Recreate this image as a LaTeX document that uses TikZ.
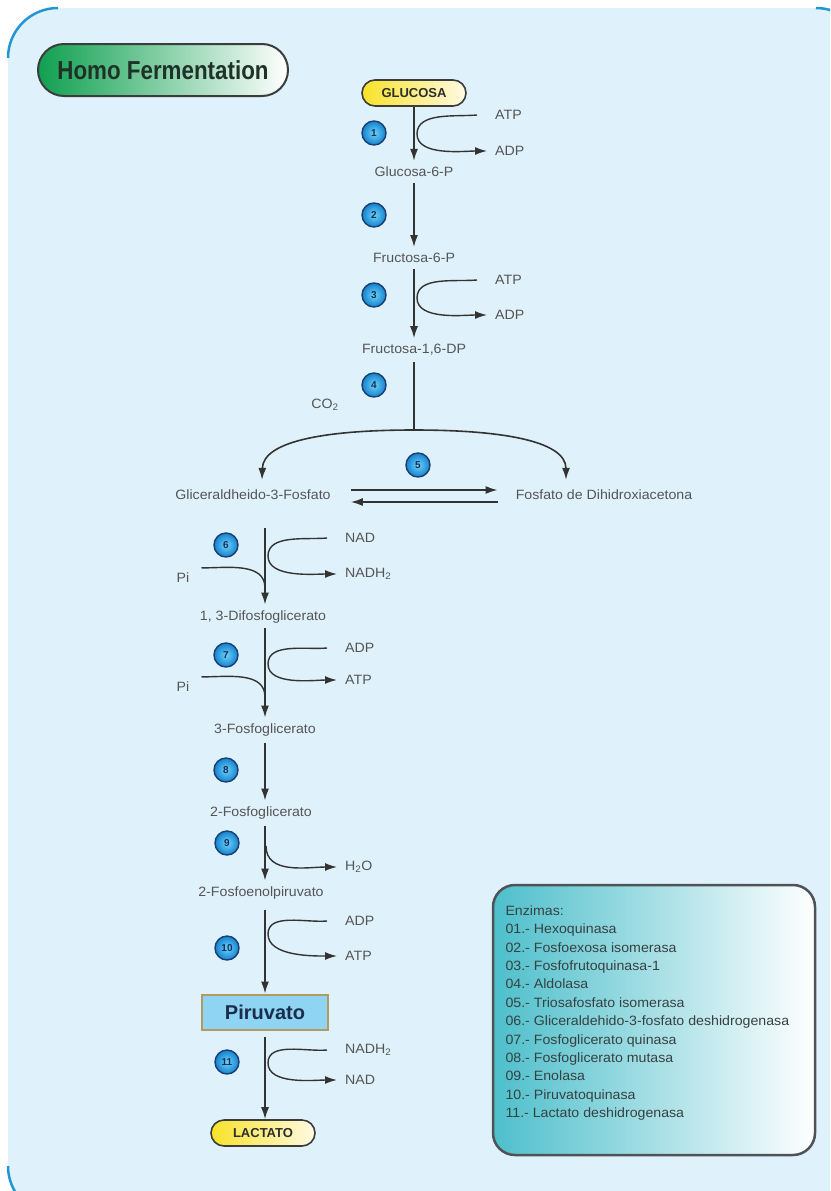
\documentclass[tikz,border=0pt]{standalone}
\usepackage{fontspec}
\setmainfont{Liberation Sans}
\newfontfamily\labelfont[FakeStretch=1.05]{Liberation Sans}
\newfontfamily\narrowfont[FakeStretch=0.86]{Liberation Sans}
\usetikzlibrary{arrows.meta, positioning, calc}
\definecolor{bgblue}{RGB}{223, 241, 250}
\definecolor{edgeblue}{RGB}{33, 150, 214}
\definecolor{titlegreen}{RGB}{15, 160, 80}
\definecolor{titletxt}{RGB}{30, 50, 40}
\definecolor{pillyellow}{RGB}{247, 226, 40}
\definecolor{pillcream}{RGB}{255, 250, 228}
\definecolor{pillborder}{RGB}{60, 60, 60}
\definecolor{darktxt}{RGB}{45, 45, 45}
\definecolor{txtgray}{RGB}{85, 85, 85}
\definecolor{linegray}{RGB}{51, 51, 51}
\definecolor{numblue}{RGB}{20, 130, 205}
\definecolor{numlight}{RGB}{110, 210, 250}
\definecolor{numborder}{RGB}{26, 63, 115}
\definecolor{numtxt}{RGB}{16, 48, 90}
\definecolor{pirfill}{RGB}{143, 212, 242}
\definecolor{pirborder}{RGB}{179, 154, 96}
\definecolor{pirtxt}{RGB}{27, 45, 77}
\definecolor{enzteal}{RGB}{77, 191, 203}
\definecolor{enzborder}{RGB}{79, 83, 88}
\definecolor{enztxt}{RGB}{55, 65, 65}

\begin{document}
\begin{tikzpicture}[x=1pt, y=1pt, >={Latex[length=12pt,width=8pt]},
    lbl/.style={font=\labelfont\fontsize{13.5}{16}\selectfont, text=txtgray, inner xsep=2pt, inner ysep=6pt},
    sidelbl/.style={font=\labelfont\fontsize{13.5}{16}\selectfont, text=txtgray, inner sep=2pt, anchor=west},
    pill/.style={draw=pillborder, line width=1.6pt, rounded corners=13pt, left color=pillyellow, middle color=pillyellow!85!white,
        right color=pillcream, minimum width=104pt, minimum height=26pt, inner sep=0pt,
        font=\bfseries\fontsize{13}{13}\selectfont, text=darktxt},
    titlepill/.style={draw=pillborder, line width=2pt, rounded corners=26pt, left color=titlegreen, middle color=titlegreen!80!white,
        right color=white, minimum width=250pt, minimum height=52pt, font=\narrowfont\bfseries\fontsize{26}{26}\selectfont, text=titletxt},
    pirbox/.style={draw=pirborder, line width=2pt, fill=pirfill, minimum width=126pt, minimum height=35pt,
        font=\bfseries\fontsize{20}{20}\selectfont, text=pirtxt},
    stepnum/.style={circle, draw=numborder, line width=1.4pt, inner color=numlight, outer color=numblue, minimum size=24pt,
        inner sep=0pt, font=\bfseries\fontsize{10}{10}\selectfont, text=numtxt},
    flowarrow/.style={draw=linegray, line width=1.6pt, ->},
    sidecurve/.style={draw=linegray, line width=1.4pt}]

    % background panel
    \useasboundingbox (0,0) rectangle (830,-1191);
    \begin{scope}
        \clip (0,0) rectangle (830,-1191);
        \fill[bgblue, rounded corners=50pt] (8,-8) rectangle (866,-1216);
        \draw[edgeblue, line width=2.5pt] (8,-58) arc[start angle=180, end angle=90, radius=50];
        \draw[edgeblue, line width=2.5pt] (816,-8) arc[start angle=90, end angle=70, radius=50];
        \draw[edgeblue, line width=2.5pt] (8,-1166) arc[start angle=180, end angle=215, radius=50];
    \end{scope}

    % title
    \node[titlepill] (title) at (163,-70) {Homo Fermentation};

    % metabolites
    \node[pill] (glu) at (414,-93) {GLUCOSA};
    \node[lbl] (g6p) at (414,-172) {Glucosa-6-P};
    \node[lbl] (f6p) at (414,-258) {Fructosa-6-P};
    \node[lbl] (f16) at (414,-350) {Fructosa-1,6-DP};
    \node[lbl] (g3p) at (253,-495) {Gliceraldheido-3-Fosfato};
    \node[lbl] (dhap) at (604,-495) {Fosfato de Dihidroxiacetona};
    \node[lbl] (bpg) at (263,-617) {1, 3-Difosfoglicerato};
    \node[lbl] (pg3) at (265,-730) {3-Fosfoglicerato};
    \node[lbl] (pg2) at (261,-813) {2-Fosfoglicerato};
    \node[lbl] (pep) at (261,-893) {2-Fosfoenolpiruvato};
    \node[pirbox] (pir) at (265,-1012) {Piruvato};
    \node[pill] (lac) at (263,-1133) {LACTATO};

    % enzyme numbers
    \node[stepnum] (e1) at (374,-133) {1};
    \node[stepnum] (e2) at (374,-215) {2};
    \node[stepnum] (e3) at (374,-295) {3};
    \node[stepnum] (e4) at (374,-385) {4};
    \node[stepnum] (e5) at (418,-465) {5};
    \node[stepnum] (e6) at (226,-545) {6};
    \node[stepnum] (e7) at (226,-655) {7};
    \node[stepnum] (e8) at (226,-770) {8};
    \node[stepnum] (e9) at (227,-843) {9};
    \node[stepnum] (e10) at (227,-948) {10};
    \node[stepnum] (e11) at (227,-1062) {11};

    % cofactors
    \node[sidelbl] (atp1) at (493,-115) {ATP};
    \node[sidelbl] (adp1) at (493,-151) {ADP};
    \node[sidelbl] (atp3) at (493,-280) {ATP};
    \node[sidelbl] (adp3) at (493,-315) {ADP};
    \node[sidelbl, anchor=center] (co2) at (325,-405) {CO\textsubscript{2}};
    \node[sidelbl] (nad6) at (343,-538) {NAD};
    \node[sidelbl] (nadh6) at (343,-574) {NADH\textsubscript{2}};
    \node[sidelbl, anchor=center] (pi6) at (183,-578) {Pi};
    \node[sidelbl] (adp7) at (343,-648) {ADP};
    \node[sidelbl] (atp7) at (343,-680) {ATP};
    \node[sidelbl, anchor=center] (pi7) at (183,-687) {Pi};
    \node[sidelbl] (h2o) at (343,-867) {H\textsubscript{2}O};
    \node[sidelbl] (adp10) at (343,-921) {ADP};
    \node[sidelbl] (atp10) at (343,-956) {ATP};
    \node[sidelbl] (nadh11) at (343,-1050) {NADH\textsubscript{2}};
    \node[sidelbl] (nad11) at (343,-1080) {NAD};

    % upper pathway
    \draw[flowarrow] (glu) -- (g6p);
    \draw[flowarrow] (g6p) -- (f6p);
    \draw[flowarrow] (f6p) -- (f16);
    \coordinate (split) at (414,-430);
    \draw[sidecurve] (f16) -- (split);
    \draw[flowarrow] (split) .. controls (330,-430) and (263,-440) .. ([xshift=9pt,yshift=4pt]g3p.north);
    \draw[flowarrow] (split) .. controls (498,-430) and (566,-440) .. ([xshift=-38pt,yshift=4pt]dhap.north);
    \draw[flowarrow] ([xshift=18pt,yshift=5pt]g3p.east) -- ([xshift=-16pt,yshift=5pt]dhap.west);
    \draw[flowarrow] ([xshift=-16pt,yshift=-7pt]dhap.west) -- ([xshift=18pt,yshift=-7pt]g3p.east);

    \coordinate (t1) at (417,-134);
    \draw[sidecurve, ->] ([xshift=-16pt]atp1.west) to[out=185, in=90, looseness=0.9] (t1)
        to[out=-90, in=180, looseness=0.8] ([xshift=-6pt]adp1.west);
    \coordinate (t3) at (417,-298);
    \draw[sidecurve, ->] ([xshift=-16pt]atp3.west) to[out=185, in=90, looseness=0.9] (t3)
        to[out=-90, in=180, looseness=0.8] ([xshift=-6pt]adp3.west);

    % lower pathway
    \coordinate (s6) at (265,-528);
    \draw[flowarrow] (s6) -- (s6 |- bpg.north);
    \coordinate (t6) at (268,-556);
    \draw[sidecurve, ->] ([xshift=-16pt]nad6.west) to[out=185, in=90, looseness=0.9] (t6)
        to[out=-90, in=180, looseness=0.8] ([xshift=-6pt]nadh6.west);
    \coordinate (m6) at (265,-588);
    \draw[sidecurve] ([shift={(10pt,3pt)}]pi6.north east) to[out=0, in=90] (m6);

    \coordinate (s7) at (265,-628);
    \draw[flowarrow] (s7) -- (s7 |- pg3.north);
    \coordinate (t7) at (268,-664);
    \draw[sidecurve, ->] ([xshift=-16pt]adp7.west) to[out=185, in=90, looseness=0.9] (t7)
        to[out=-90, in=180, looseness=0.8] ([xshift=-6pt]atp7.west);
    \coordinate (m7) at (265,-697);
    \draw[sidecurve] ([shift={(10pt,3pt)}]pi7.north east) to[out=0, in=90] (m7);

    \draw[flowarrow] (pg3.south) -- (pg3.south |- pg2.north);

    \draw[flowarrow] (pg2.south -| s6) -- (s6 |- pep.north);
    \coordinate (t9) at (266,-846);
    \draw[sidecurve, ->] (t9) to[out=-90, in=180] ([xshift=-6pt]h2o.west);

    \draw[flowarrow, shorten <=4pt] (pep.south -| s6) -- (s6 |- pir.north);
    \coordinate (t10) at (268,-934);
    \draw[sidecurve, ->] ([xshift=-16pt]adp10.west) to[out=185, in=90, looseness=0.9] (t10)
        to[out=-90, in=180, looseness=0.8] ([xshift=-6pt]atp10.west);

    \draw[flowarrow, shorten <=6pt] (pir.south -| s6) -- (s6 |- lac.north);
    \coordinate (t11) at (268,-1063);
    \draw[sidecurve, ->] ([xshift=-16pt]nadh11.west) to[out=185, in=90, looseness=0.9] (t11)
        to[out=-90, in=180, looseness=0.8] ([xshift=-6pt]nad11.west);

    % enzyme legend
    \node[draw=enzborder, line width=2.5pt, rounded corners=22pt, left color=enzteal, middle color=enzteal!45!white,
        right color=white, minimum width=322pt, minimum height=270pt] (enzbox) at (654,-1020) {};
    \node[anchor=north west, align=left, font=\labelfont\fontsize{13.5}{18.4}\selectfont, text=enztxt]
        (enzlist) at (502,-902) {Enzimas:\\
        01.- Hexoquinasa\\
        02.- Fosfoexosa isomerasa\\
        03.- Fosfofrutoquinasa-1\\
        04.- Aldolasa\\
        05.- Triosafosfato isomerasa\\
        06.- Gliceraldehido-3-fosfato deshidrogenasa\\
        07.- Fosfoglicerato quinasa\\
        08.- Fosfoglicerato mutasa\\
        09.- Enolasa\\
        10.- Piruvatoquinasa\\
        11.- Lactato deshidrogenasa};
\end{tikzpicture}
\end{document}
